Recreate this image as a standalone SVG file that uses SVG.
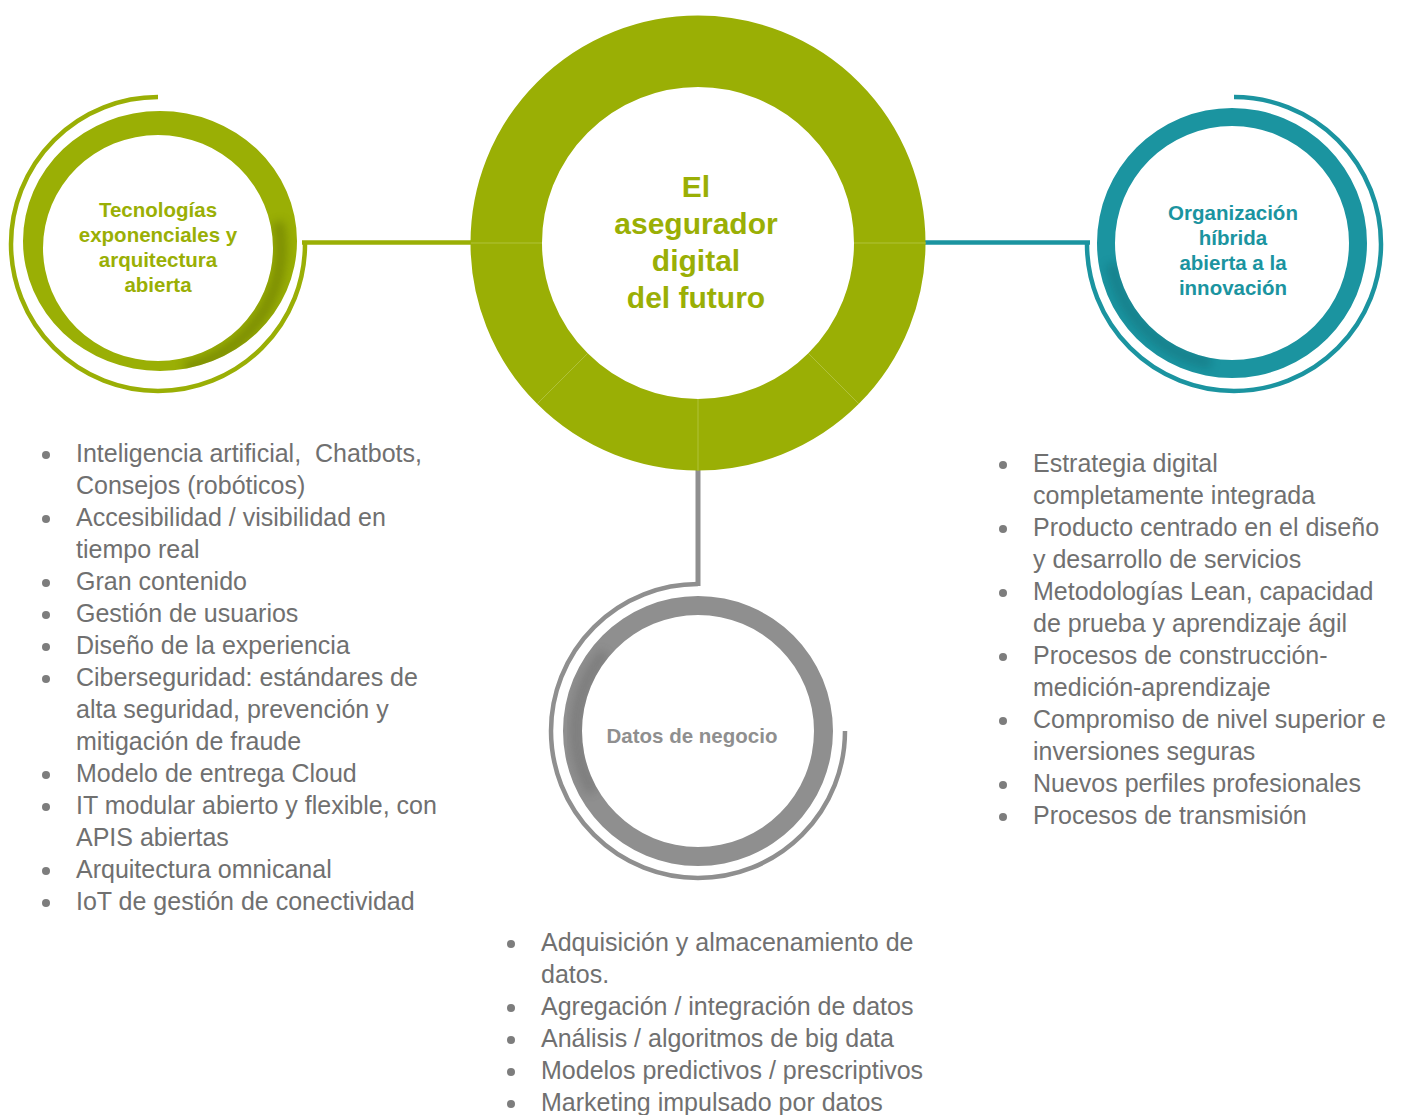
<svg xmlns="http://www.w3.org/2000/svg" width="1406" height="1115" viewBox="0 0 1406 1115">
<style>
.lbl{font-family:"Liberation Sans",Arial,sans-serif;font-weight:bold;text-anchor:middle}
.g{fill:#9aaf05}
.t{fill:#1b94a0}
.gr{fill:#8f8f8f}
.li{font-family:"Liberation Sans",Arial,sans-serif;font-size:25px;fill:#707070}
.bul{fill:#7d7d7d}
.div{stroke:#b0c23a;stroke-width:1}
</style>
<defs>
<filter id="blur" x="-30%" y="-30%" width="160%" height="160%"><feGaussianBlur stdDeviation="5"/></filter>
<clipPath id="cL"><path clip-rule="evenodd" d="M23 241A137 130 0 1 0 297 241A137 130 0 1 0 23 241ZM43 248A115 113 0 1 0 273 248A115 113 0 1 0 43 248Z"/></clipPath>
<clipPath id="cR"><path clip-rule="evenodd" d="M1097 243A135 135 0 1 0 1367 243A135 135 0 1 0 1097 243ZM1115 243A117 117 0 1 0 1349 243A117 117 0 1 0 1115 243Z"/></clipPath>
<clipPath id="cB"><path clip-rule="evenodd" d="M563 731A135 135 0 1 0 833 731A135 135 0 1 0 563 731ZM582 731A116 116 0 1 0 814 731A116 116 0 1 0 582 731Z"/></clipPath>
</defs>

<g id="connectors" fill="none" stroke-width="4.5">
<line x1="302" y1="242.5" x2="472" y2="242.5" stroke="#9aaf05"/>
<line x1="925" y1="242.5" x2="1090" y2="242.5" stroke="#1b94a0"/>
<line x1="698" y1="470" x2="698" y2="586" stroke="#8f8f8f" stroke-width="5"/>
</g>

<g id="center">
<circle cx="698" cy="243" r="191.75" fill="none" stroke="#9aaf05" stroke-width="71.5"/>
<line class="div" x1="471" y1="243" x2="542" y2="243"/>
<line class="div" x1="854" y1="243" x2="926" y2="243"/>
<line class="div" x1="698" y1="399" x2="698" y2="471"/>
<line class="div" x1="587.7" y1="353.3" x2="537.1" y2="403.9"/>
<line class="div" x1="808.3" y1="353.3" x2="858.9" y2="403.9"/>
<text class="lbl g" font-size="30" x="696" y="197">El</text>
<text class="lbl g" font-size="30" x="696" y="234">asegurador</text>
<text class="lbl g" font-size="30" x="696" y="271">digital</text>
<text class="lbl g" font-size="30" x="696" y="308">del futuro</text>
</g>

<g id="node-tecnologias">
<path d="M158 97A147 147 0 1 0 305 244" fill="none" stroke="#9aaf05" stroke-width="4.5"/>
<path fill-rule="evenodd" fill="#9aaf05" d="M23 241A137 130 0 1 0 297 241A137 130 0 1 0 23 241ZM43 248A115 113 0 1 0 273 248A115 113 0 1 0 43 248Z"/>
<g clip-path="url(#cL)"><path d="M278 222A122 122 0 0 1 185 368" fill="none" stroke="#5a6800" stroke-width="12" opacity="0.45" filter="url(#blur)"/></g>
<text class="lbl g" font-size="20.5" x="158" y="217">Tecnologías</text>
<text class="lbl g" font-size="20.5" x="158" y="242">exponenciales y</text>
<text class="lbl g" font-size="20.5" x="158" y="267">arquitectura</text>
<text class="lbl g" font-size="20.5" x="158" y="292">abierta</text>
</g>

<g id="node-organizacion">
<path d="M1234 97A147 147 0 1 1 1087 244" fill="none" stroke="#1b94a0" stroke-width="4.5"/>
<path fill-rule="evenodd" fill="#1b94a0" d="M1097 243A135 135 0 1 0 1367 243A135 135 0 1 0 1097 243ZM1115 243A117 117 0 1 0 1349 243A117 117 0 1 0 1115 243Z"/>
<g clip-path="url(#cR)"><path d="M1211 363A122 122 0 0 1 1112 264" fill="none" stroke="#0c5f68" stroke-width="12" opacity="0.35" filter="url(#blur)"/></g>
<text class="lbl t" font-size="20.5" x="1233" y="220">Organización</text>
<text class="lbl t" font-size="20.5" x="1233" y="245">híbrida</text>
<text class="lbl t" font-size="20.5" x="1233" y="270">abierta a la</text>
<text class="lbl t" font-size="20.5" x="1233" y="295">innovación</text>
</g>

<g id="node-datos">
<path d="M698 584A147 147 0 1 0 845 731" fill="none" stroke="#8f8f8f" stroke-width="4.5"/>
<path fill-rule="evenodd" fill="#8f8f8f" d="M563 731A135 135 0 1 0 833 731A135 135 0 1 0 563 731ZM582 731A116 116 0 1 0 814 731A116 116 0 1 0 582 731Z"/>
<g clip-path="url(#cB)"><path d="M593 792A121 121 0 0 1 605 653" fill="none" stroke="#555" stroke-width="12" opacity="0.3" filter="url(#blur)"/></g>
<text class="lbl gr" font-size="20.5" x="692" y="743">Datos de negocio</text>
</g>

<g id="list-left">
<g class="bul">
<circle cx="46" cy="455" r="4"/><circle cx="46" cy="519" r="4"/><circle cx="46" cy="583" r="4"/><circle cx="46" cy="615" r="4"/><circle cx="46" cy="647" r="4"/><circle cx="46" cy="679" r="4"/><circle cx="46" cy="775" r="4"/><circle cx="46" cy="807" r="4"/><circle cx="46" cy="871" r="4"/><circle cx="46" cy="903" r="4"/>
</g>
<text class="li" x="76" y="462" xml:space="preserve">Inteligencia artificial,  Chatbots,</text>
<text class="li" x="76" y="494">Consejos (robóticos)</text>
<text class="li" x="76" y="526">Accesibilidad / visibilidad en</text>
<text class="li" x="76" y="558">tiempo real</text>
<text class="li" x="76" y="590">Gran contenido</text>
<text class="li" x="76" y="622">Gestión de usuarios</text>
<text class="li" x="76" y="654">Diseño de la experiencia</text>
<text class="li" x="76" y="686">Ciberseguridad: estándares de</text>
<text class="li" x="76" y="718">alta seguridad, prevención y</text>
<text class="li" x="76" y="750">mitigación de fraude</text>
<text class="li" x="76" y="782">Modelo de entrega Cloud</text>
<text class="li" x="76" y="814">IT modular abierto y flexible, con</text>
<text class="li" x="76" y="846">APIS abiertas</text>
<text class="li" x="76" y="878">Arquitectura omnicanal</text>
<text class="li" x="76" y="910">IoT de gestión de conectividad</text>
</g>

<g id="list-right">
<g class="bul">
<circle cx="1003" cy="465" r="4"/><circle cx="1003" cy="529" r="4"/><circle cx="1003" cy="593" r="4"/><circle cx="1003" cy="657" r="4"/><circle cx="1003" cy="721" r="4"/><circle cx="1003" cy="785" r="4"/><circle cx="1003" cy="817" r="4"/>
</g>
<text class="li" x="1033" y="472">Estrategia digital</text>
<text class="li" x="1033" y="504">completamente integrada</text>
<text class="li" x="1033" y="536">Producto centrado en el diseño</text>
<text class="li" x="1033" y="568">y desarrollo de servicios</text>
<text class="li" x="1033" y="600">Metodologías Lean, capacidad</text>
<text class="li" x="1033" y="632">de prueba y aprendizaje ágil</text>
<text class="li" x="1033" y="664">Procesos de construcción-</text>
<text class="li" x="1033" y="696">medición-aprendizaje</text>
<text class="li" x="1033" y="728">Compromiso de nivel superior e</text>
<text class="li" x="1033" y="760">inversiones seguras</text>
<text class="li" x="1033" y="792">Nuevos perfiles profesionales</text>
<text class="li" x="1033" y="824">Procesos de transmisión</text>
</g>

<g id="list-bottom">
<g class="bul">
<circle cx="511" cy="944" r="4"/><circle cx="511" cy="1008" r="4"/><circle cx="511" cy="1040" r="4"/><circle cx="511" cy="1072" r="4"/><circle cx="511" cy="1104" r="4"/>
</g>
<text class="li" x="541" y="951">Adquisición y almacenamiento de</text>
<text class="li" x="541" y="983">datos.</text>
<text class="li" x="541" y="1015">Agregación / integración de datos</text>
<text class="li" x="541" y="1047">Análisis / algoritmos de big data</text>
<text class="li" x="541" y="1079">Modelos predictivos / prescriptivos</text>
<text class="li" x="541" y="1111">Marketing impulsado por datos</text>
</g>
</svg>
